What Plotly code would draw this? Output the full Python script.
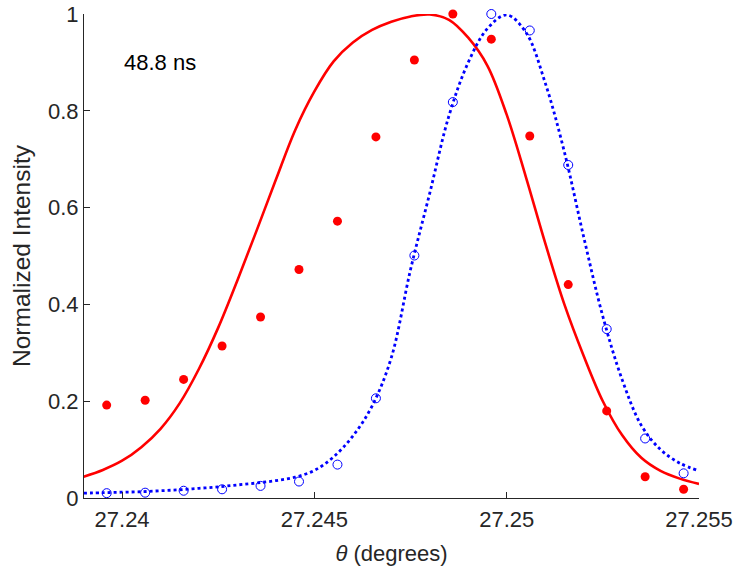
import plotly.graph_objects as go

# Measured scan positions (degrees) and normalized intensities
theta = [27.2396, 27.2406, 27.2416, 27.2426, 27.2436, 27.2446, 27.2456, 27.2466,
         27.2476, 27.2486, 27.2496, 27.2506, 27.2516, 27.2526, 27.2536, 27.2546]
pumped = [0.192, 0.202, 0.245, 0.314, 0.374, 0.472, 0.572, 0.746,
          0.905, 1.000, 0.948, 0.748, 0.441, 0.180, 0.044, 0.018]
unpumped = [0.010, 0.011, 0.015, 0.018, 0.025, 0.034, 0.069, 0.206,
            0.501, 0.818, 1.000, 0.966, 0.688, 0.349, 0.123, 0.051]

# Fitted profiles, sampled every 0.0005 degrees
fit_x = [27.2390, 27.2395, 27.2400, 27.2405, 27.2410, 27.2415, 27.2420, 27.2425,
         27.2430, 27.2435, 27.2440, 27.2445, 27.2450, 27.2455, 27.2460, 27.2465,
         27.2470, 27.2475, 27.2480, 27.2485, 27.2490, 27.2495, 27.2500, 27.2505,
         27.2510, 27.2515, 27.2520, 27.2525, 27.2530, 27.2535, 27.2540, 27.2545,
         27.2550]
fit_pumped = [0.044, 0.058, 0.077, 0.105, 0.143, 0.196, 0.267, 0.352,
              0.450, 0.553, 0.658, 0.760, 0.840, 0.902, 0.941, 0.967,
              0.984, 0.995, 0.999, 0.988, 0.951, 0.893, 0.792, 0.663,
              0.527, 0.400, 0.294, 0.200, 0.130, 0.083, 0.056, 0.040,
              0.029]
fit_unpumped = [0.010, 0.011, 0.012, 0.013, 0.015, 0.017, 0.020, 0.023,
                0.027, 0.031, 0.036, 0.043, 0.057, 0.085, 0.128, 0.190,
                0.290, 0.472, 0.630, 0.790, 0.900, 0.970, 0.998, 0.962,
                0.858, 0.715, 0.540, 0.375, 0.245, 0.150, 0.100, 0.072,
                0.056]

x_ticks = [27.24, 27.245, 27.25, 27.255]
x_tick_text = ["27.24", "27.245", "27.25", "27.255"]
y_ticks = [0, 0.2, 0.4, 0.6, 0.8, 1]
y_tick_text = ["0", "0.2", "0.4", "0.6", "0.8", "1"]

FONT = "Liberation Sans, Arial, Helvetica, sans-serif"
AXIS = "#262626"

fig = go.Figure()
fig.add_trace(go.Scatter(x=fit_x, y=fit_pumped, mode="lines",
                         line=dict(color="#ff0000", width=2.6, shape="spline", smoothing=1.0),
                         showlegend=False))
fig.add_trace(go.Scatter(x=fit_x, y=fit_unpumped, mode="lines",
                         line=dict(color="#0000ff", width=2.8, dash="3px,3px",
                                   shape="spline", smoothing=1.0),
                         showlegend=False))
fig.add_trace(go.Scatter(x=theta, y=pumped, mode="markers",
                         marker=dict(symbol="circle", size=9, color="#ff0000"),
                         cliponaxis=False, showlegend=False))
fig.add_trace(go.Scatter(x=theta, y=unpumped, mode="markers",
                         marker=dict(symbol="circle-open", size=9, color="#0000ff",
                                     line=dict(width=1)),
                         cliponaxis=False, showlegend=False))

fig.add_annotation(x=27.24, y=0.9, xref="x", yref="y", text="48.8 ns",
                   showarrow=False, xanchor="left", yanchor="middle",
                   font=dict(family=FONT, size=22, color="#000000"))

fig.update_layout(
    width=735, height=571,
    margin=dict(l=84, r=36, t=14, b=73),
    paper_bgcolor="white", plot_bgcolor="white",
    font=dict(family=FONT, size=22, color=AXIS),
    xaxis=dict(range=[27.23901, 27.255], tickvals=x_ticks, ticktext=x_tick_text,
               ticks="inside", ticklen=6, tickcolor=AXIS, tickwidth=1,
               showline=True, linecolor=AXIS, linewidth=1, showgrid=False,
               zeroline=False, automargin=False, tickfont=dict(size=22, color=AXIS),
               ticklabelstandoff=2,
               title=dict(text="<i>θ</i> (degrees)", font=dict(size=22, color=AXIS),
                          standoff=14)),
    yaxis=dict(range=[0, 1], tickvals=y_ticks, ticktext=y_tick_text,
               ticks="inside", ticklen=6, tickcolor=AXIS, tickwidth=1,
               showline=True, linecolor=AXIS, linewidth=1, showgrid=False,
               zeroline=False, automargin=False, tickfont=dict(size=22, color=AXIS),
               title=dict(text="Normalized Intensity", font=dict(size=24.5, color=AXIS),
                          standoff=10)),
)

fig.write_html("out.html")
